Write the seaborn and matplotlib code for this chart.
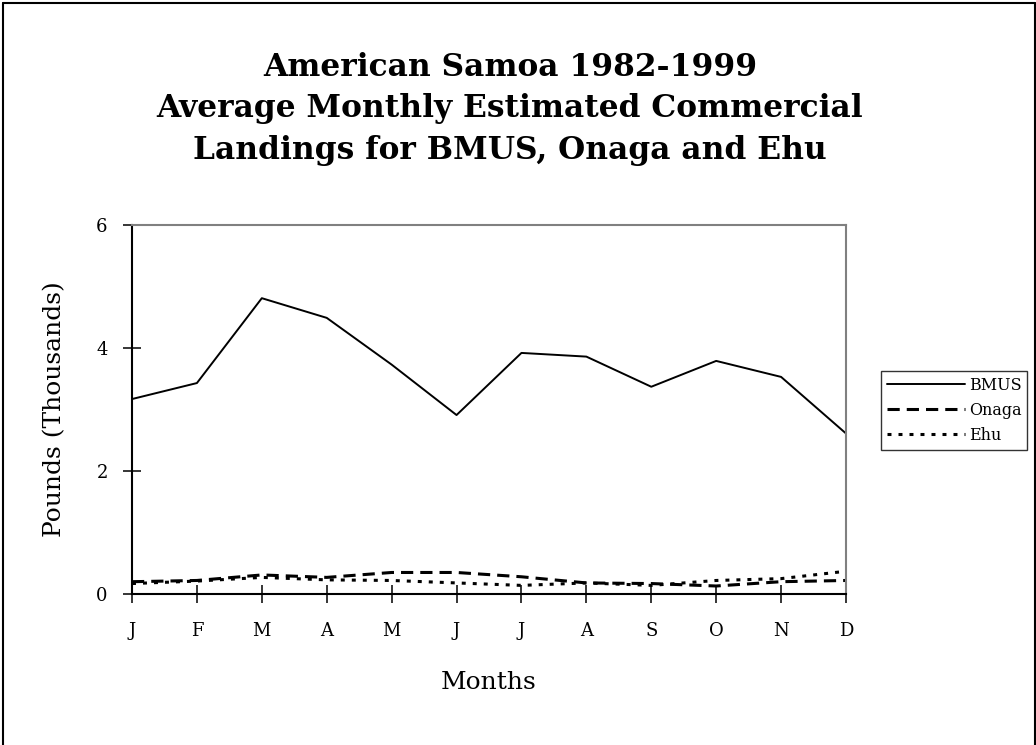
import matplotlib
matplotlib.use("Agg")
import matplotlib.pyplot as plt
from matplotlib.lines import Line2D
import pandas as pd
import seaborn as sns

# values (thousands of pounds)
MONTHS = ["J", "F", "M", "A", "M", "J", "J", "A", "S", "O", "N", "D"]
BMUS = [3.17, 3.43, 4.81, 4.49, 3.73, 2.91, 3.92, 3.86, 3.37, 3.79, 3.53, 2.61]
ONAGA = [0.20, 0.22, 0.31, 0.27, 0.35, 0.35, 0.28, 0.18, 0.17, 0.13, 0.20, 0.22]
EHU = [0.17, 0.21, 0.27, 0.23, 0.22, 0.18, 0.14, 0.18, 0.14, 0.22, 0.25, 0.37]
Y_TICKS = [0, 2, 4, 6]

TITLE_LINES = [
    "American Samoa 1982-1999",
    "Average Monthly Estimated Commercial",
    "Landings for BMUS, Onaga and Ehu",
]

W, H = 1036, 745


def build_frame() -> pd.DataFrame:
    """Long-form table of the three species."""
    wide = pd.DataFrame({"month_idx": range(len(MONTHS)), "BMUS": BMUS,
                         "Onaga": ONAGA, "Ehu": EHU})
    return wide.melt(id_vars="month_idx", var_name="species", value_name="pounds")


def main() -> None:
    sns.set_style("white")
    plt.rcParams["font.family"] = ["DejaVu Serif"]
    plt.rcParams["text.color"] = "black"
    plt.rcParams["axes.labelcolor"] = "black"

    long_df = build_frame()

    fig = plt.figure(figsize=(W / 100, H / 100), dpi=100)
    ax = fig.add_axes([132 / W, 1 - 594 / H, 714 / W, 369 / H])

    styles = {
        "BMUS": ("-", 1.4),
        "Onaga": ((0, (4, 2.3)), 2.2),
        "Ehu": ((0, (1.3, 2.3)), 2.2),
    }
    for name, (ls, lw) in styles.items():
        sub = long_df[long_df["species"] == name]
        sns.lineplot(data=sub, x="month_idx", y="pounds", ax=ax, color="black",
                     linestyle=ls, linewidth=lw, label=name)

    ax.set_xlim(0, len(MONTHS) - 1)
    ax.set_ylim(Y_TICKS[0], Y_TICKS[-1])
    ax.set_xticks(range(len(MONTHS)))
    ax.set_xticklabels(MONTHS)
    ax.set_yticks(Y_TICKS)

    ax.tick_params(direction="inout", length=13, width=1.1, colors="black",
                   labelsize=13, bottom=True, left=True)
    ax.tick_params(axis="x", pad=14)
    ax.tick_params(axis="y", pad=11)

    for side in ["left", "bottom"]:
        ax.spines[side].set_color("black")
        ax.spines[side].set_linewidth(1.5)
    for side in ["top", "right"]:
        ax.spines[side].set_color("#808080")
        ax.spines[side].set_linewidth(1.5)

    ax.set_xlabel("Months", fontsize=18)
    ax.set_ylabel("Pounds (Thousands)", fontsize=18)
    ax.xaxis.set_label_coords(0.5, -0.209)
    ax.yaxis.set_label_coords(-0.092, 0.5)

    leg = ax.legend(loc="center left", bbox_to_anchor=(881 / W, 1 - 410.5 / H),
                    bbox_transform=fig.transFigure, frameon=True, fancybox=False,
                    edgecolor="black", fontsize=11.5, handlelength=4.9,
                    handletextpad=0.25, borderpad=0.35, labelspacing=0.5,
                    borderaxespad=0)
    leg.get_frame().set_linewidth(1.0)

    for text, y_px in zip(TITLE_LINES, [67, 108, 150]):
        fig.text(510 / W, 1 - y_px / H, text, ha="center", va="center",
                 fontsize=22.5, fontweight="bold", color="black")

    # outer chart frame (cropped at the bottom in the reference)
    fig.add_artist(Line2D([3 / W, 3 / W], [0, 1 - 3 / H], transform=fig.transFigure,
                          color="black", lw=1.5))
    fig.add_artist(Line2D([3 / W, 1034.5 / W], [1 - 3 / H, 1 - 3 / H],
                          transform=fig.transFigure, color="black", lw=1.5))
    fig.add_artist(Line2D([1034.5 / W, 1034.5 / W], [0, 1 - 3 / H],
                          transform=fig.transFigure, color="black", lw=1.5))

    fig.savefig("out.png", dpi=100)
    plt.close(fig)


if __name__ == "__main__":
    main()
